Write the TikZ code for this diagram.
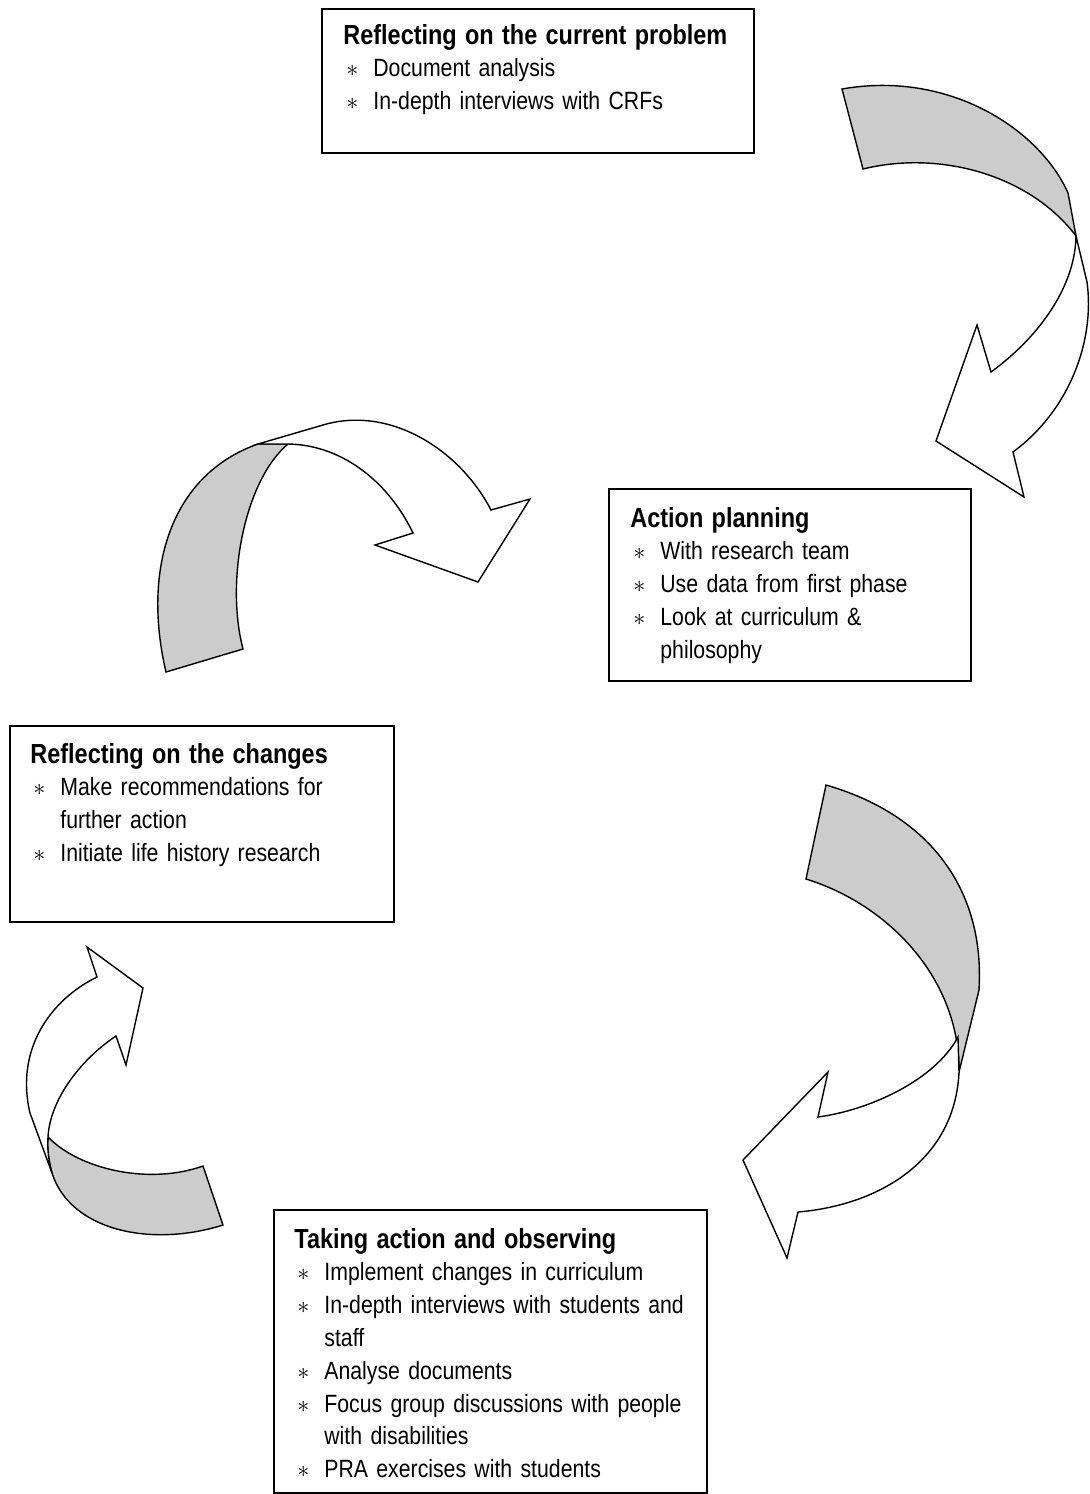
\documentclass[tikz,border=0pt]{standalone}
\usepackage{fontspec}
\usepackage{tikz}
\newfontfamily\phasefont[FakeStretch=0.85]{Liberation Sans}
\definecolor{foldgray}{RGB}{204, 204, 204}
\newcommand{\phaselayout}{\rightskip=0pt plus 1fil\relax\hyphenpenalty=10000\relax}
\newcommand{\stagehead}[1]{\noindent{\fontsize{13.8pt}{16.4pt}\selectfont\bfseries #1}\par}
\newcommand{\stageitem}[1]{\hangindent=15pt\hangafter=1\noindent\makebox[15pt][l]{\hspace{1.5pt}$\ast$}#1\par}

\begin{document}
\begin{tikzpicture}[x=0.5pt, y=-0.5pt,
    phasebox/.style={draw, line width=1pt, inner sep=0pt, anchor=north west},
    phasetext/.style={anchor=base west, inner sep=0pt, text width=#1,
      font=\phasefont\fontsize{12.5pt}{16.4pt}\selectfont, execute at begin node=\phaselayout},
    ribbon/.style={draw, line width=0.7pt, line join=miter}]
        \useasboundingbox (0,0) rectangle (1089,1494);

        % curved ribbon arrows, grey = back side
        \filldraw[ribbon, fill=foldgray] (842,89) .. controls (950,70) and (1040,130) .. (1068,193) -- (1076,236) .. controls (1030,175) and (940,150) .. (863,169) -- cycle;
        \filldraw[ribbon, fill=white] (1076,236) -- (1087,282) .. controls (1095,340) and (1070,410) .. (1013,452) -- (1024,497) -- (936,441) -- (977,325) -- (991,372) .. controls (1035,340) and (1075,290) .. (1076,236) -- cycle;

        \filldraw[ribbon, fill=foldgray] (166,672) .. controls (142,570) and (170,475) .. (258,444) -- (288,444) .. controls (245,480) and (225,580) .. (243,649) -- cycle;
        \filldraw[ribbon, fill=white] (258,444) -- (323,425) .. controls (390,405) and (460,450) .. (491,510) -- (530,499) -- (478,582) -- (375,545) -- (413,533) .. controls (390,485) and (345,445) .. (288,444) -- cycle;

        \filldraw[ribbon, fill=foldgray] (826,785) .. controls (930,815) and (985,890) .. (979,990) -- (959,1072) .. controls (960,980) and (890,905) .. (806,879) -- cycle;
        \filldraw[ribbon, fill=white] (959,1072) .. controls (955,1160) and (880,1205) .. (798,1212) -- (787,1258) -- (743,1160) -- (828,1072) -- (818,1117) .. controls (870,1110) and (935,1080) .. (958,1037) -- cycle;

        \filldraw[ribbon, fill=foldgray] (203,1166) .. controls (150,1185) and (80,1170) .. (48,1137) .. controls (47,1150) and (49,1162) .. (52,1173) .. controls (70,1230) and (150,1248) .. (223,1225) -- cycle;
        \filldraw[ribbon, fill=white] (52,1173) -- (30,1113) .. controls (15,1050) and (50,1000) .. (97,977) -- (87,947) -- (143,988) -- (126,1065) -- (116,1036) .. controls (80,1060) and (50,1100) .. (48,1137) .. controls (47,1150) and (49,1162) .. (52,1173) -- cycle;

        % the four stages
        \node[phasebox, minimum width=216pt, minimum height=72pt] (problem) at (321,8) {};
        \node[phasetext=200pt] (problemtxt) at ([shift={(22,36)}]problem.north west) {%
          \stagehead{Reflecting on the current problem}
          \stageitem{Document analysis}
          \stageitem{In-depth interviews with CRFs}};

        \node[phasebox, minimum width=181pt, minimum height=96pt] (planning) at (608,488) {};
        \node[phasetext=155pt] (planningtxt) at ([shift={(22,39)}]planning.north west) {%
          \stagehead{Action planning}
          \stageitem{With research team}
          \stageitem{Use data from first phase}
          \stageitem{Look at curriculum \& philosophy}};

        \node[phasebox, minimum width=192pt, minimum height=98pt] (changes) at (9,725) {};
        \node[phasetext=172.5pt] (changestxt) at ([shift={(21,38)}]changes.north west) {%
          \stagehead{Reflecting on the changes}
          \stageitem{Make recommendations for further action}
          \stageitem{Initiate life history research}};

        \node[phasebox, minimum width=216.5pt, minimum height=141.5pt] (acting) at (273,1209) {};
        \node[phasetext=203pt] (actingtxt) at ([shift={(21,39)}]acting.north west) {%
          \stagehead{Taking action and observing}
          \stageitem{Implement changes in curriculum}
          \stageitem{In-depth interviews with students and staff}
          \stageitem{Analyse documents}
          \stageitem{Focus group discussions with people with disabilities}
          \stageitem{PRA exercises with students}};
      \end{tikzpicture}
\end{document}
